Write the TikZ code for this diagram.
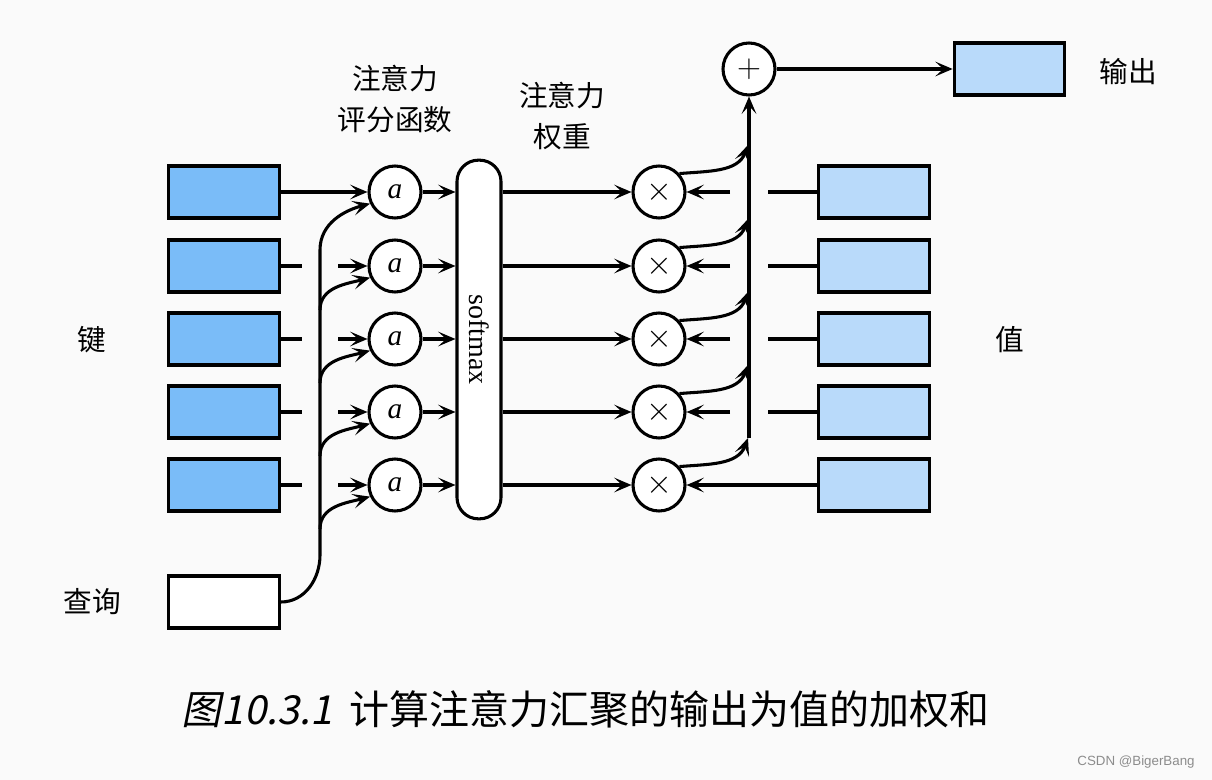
\documentclass[tikz,border=0pt]{standalone}
\usepackage{fontspec}
\usepackage{tikz}
\usetikzlibrary{arrows.meta}
\setmainfont{Liberation Serif}
\newfontfamily\cjk{Noto Sans CJK SC}
\newfontfamily\cjkit{Noto Sans CJK SC}[FakeSlant=0.2]
\newfontfamily\wmfont{Liberation Sans}
\definecolor{keyblue}{HTML}{7ABCF8}
\definecolor{valblue}{HTML}{B9DAFA}
\definecolor{bgpaper}{HTML}{FAFAFA}

\begin{document}
\begin{tikzpicture}[x=0.75pt, y=-0.75pt, line width=2.3pt,
    arr/.style={-{Stealth[length=13pt, width=11pt, inset=6pt]}},
    vecbox/.style={draw, minimum width=83pt, minimum height=39pt, inner sep=0pt},
    opnode/.style={draw, circle, fill=white, minimum size=39pt, inner sep=0pt},
    lbl/.style={font=\cjk\fontsize{21.5}{31}\selectfont, align=center}]
        % Fons i marges
        \fill[bgpaper] (0,0) rectangle (1212,780);
        \useasboundingbox (0,0) rectangle (1212,780);

        % Claus, valors i operacions per fila
        \foreach \i/\y in {1/192,2/266,3/339,4/412,5/485} {
            \node[vecbox, fill=keyblue] (k\i) at (224,\y) {};
            \node[vecbox, fill=valblue] (v\i) at (874,\y) {};
            \node[opnode, font=\itshape\fontsize{22}{22}\selectfont] (a\i) at (395,\y) {a};
            \node[opnode, font=\fontsize{27}{27}\selectfont] (m\i) at (659,\y) {$\times$};
        }

        % Consulta, softmax, suma i sortida
        \node[vecbox, fill=white] (q) at (224,602) {};
        \node[draw, fill=white, rounded corners=16pt, minimum width=33pt, minimum height=269pt,
              inner sep=0pt, font=\fontsize{21}{21}\selectfont] (sm) at (479,339.5) {\rotatebox{-90}{softmax}};
        \node[opnode, font=\fontsize{24}{24}\selectfont] (sum) at (749,69) {$+$};
        \node[vecbox, fill=valblue] (out) at (1009.5,69) {};

        % Etiquetes
        \node[lbl] (tscore) at (395,99) {注意力\\评分函数};
        \node[lbl] (tweight) at (562,116) {注意力\\权重};
        \node[lbl] (tkey) at (92,340) {键};
        \node[lbl] (tval) at (1010,340) {值};
        \node[lbl] (tquery) at (92,602) {查询};
        \node[lbl] (tout) at (1128,72) {输出};

        % Claus cap a les funcions d'avaluació
        \draw[arr] (k1.east) -- (a1.west);
        \foreach \i/\y in {2/266,3/339,4/412,5/485} {
            \draw (k\i.east) -- (302,\y);
            \draw[arr] (338,\y) -- (a\i.west);
        }

        % Consulta repartida a totes les funcions
        \draw[arr] (q.east) to[out=0, in=-90] (320,555) -- (320,250) to[out=90, in=195] (a1.205);
        \foreach \i/\y in {2/266,3/339,4/412,5/485} {
            \draw[arr] (320,\y+44) to[out=90, in=195] (a\i.205);
        }

        % Funcions cap a softmax i pesos cap als productes
        \foreach \i/\y in {1/192,2/266,3/339,4/412,5/485} {
            \draw[arr] (a\i.east) -- (sm.west |- a\i);
            \draw[arr] (sm.east |- m\i) -- (m\i.west);
        }

        % Valors cap als productes
        \foreach \i/\y in {1/192,2/266,3/339,4/412} {
            \draw (v\i.west) -- (768,\y);
            \draw[arr] (730,\y) -- (m\i.east);
        }
        \draw[arr] (v5.west) -- (m5.east);

        % Productes cap a la suma
        \coordinate (sbot) at (749,438);
        \draw[arr] (sbot) -- (sum.south);
        \foreach \i/\y in {1/192,2/266,3/339,4/412,5/485} {
            \draw[arr] (m\i.42) to[out=5, in=250] (748,\y-47);
        }
        \draw[arr] (sum.east) -- (out.west);

        % Peu de figura i marca
        \node[font=\fontsize{30}{30}\selectfont, anchor=base west] (cap) at (176,724)
            {{\cjkit 图10.3.1}\hspace{0.4em}{\cjk 计算注意力汇聚的输出为值的加权和}};
        \node[font=\wmfont\fontsize{10}{10}\selectfont, text=black!45] (wm) at (1136,762) {CSDN @BigerBang};
\end{tikzpicture}
\end{document}
